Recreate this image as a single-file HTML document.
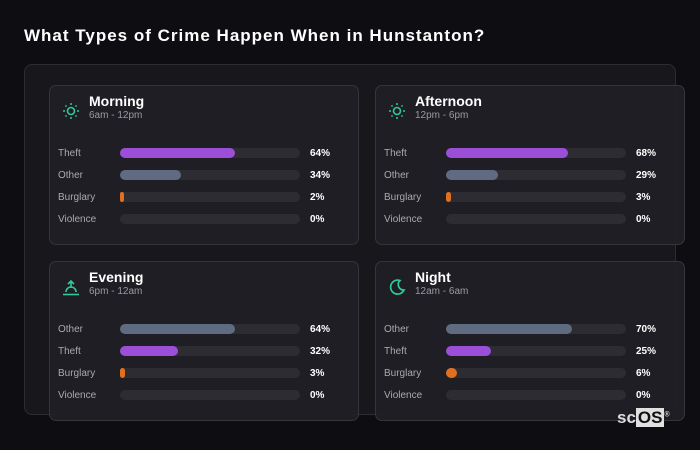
<!DOCTYPE html>
<html><head><meta charset="utf-8"><style>
*{margin:0;padding:0;box-sizing:border-box}
body{width:700px;height:450px;background:#0e0e12;font-family:"Liberation Sans","DejaVu Sans",sans-serif;position:relative;overflow:hidden;color:#fff}
.t{position:absolute;left:24px;top:26px;font-size:17px;font-weight:bold;color:#fff;letter-spacing:1px}
.outer{position:absolute;left:24px;top:64px;width:652px;height:351px;border:1px solid #2c2c33;border-radius:8px;background:#18181c}
.card{position:absolute;width:310px;height:160px;border:1px solid #34343b;border-radius:7px;background:rgba(32,32,37,0.92)}
.ic{position:absolute;left:12px;top:16px;width:18px;height:18px}
.h{position:absolute;left:39px;top:7px;font-size:14px;font-weight:bold;color:#fff}
.s{position:absolute;left:39px;top:24px;font-size:10px;color:#9a9aa2}
.r{position:absolute;left:8px;height:14px;width:290px}
.lb{position:absolute;left:0;top:-2px;font-size:10px;color:#a9a9b0;line-height:14px}
.tr{position:absolute;left:62px;top:-1px;width:180px;height:10px;border-radius:5px;background:#2c2c32}
.f{position:absolute;left:0;top:0;height:10px;border-radius:5px}
.p{position:absolute;left:252px;top:-2px;font-size:10px;font-weight:bold;color:#fff;line-height:14px}
.logo{position:absolute;left:617px;top:408px;font-size:17px;font-weight:bold;color:#ddd}
.logo span{background:#e0e0e0;color:#111;padding:0 2px}
</style></head><body>
<div class="t">What Types of Crime Happen When in Hunstanton?</div>
<div class="outer"></div>

<div class="card" style="left:49px;top:85px">
<svg class="ic" viewBox="0 0 18 18"><circle cx="9" cy="9" r="3.5" fill="none" stroke="#2fc99a" stroke-width="1.6"/><g fill="#2fc99a"><circle cx="9" cy="2" r="1"/><circle cx="9" cy="16" r="1"/><circle cx="2" cy="9" r="1"/><circle cx="16" cy="9" r="1"/><circle cx="4" cy="4" r="0.9"/><circle cx="14" cy="4" r="0.9"/><circle cx="4" cy="14" r="0.9"/><circle cx="14" cy="14" r="0.9"/></g></svg>
<div class="h">Morning</div><div class="s">6am - 12pm</div>
<div class="r" style="top:63px"><div class="lb">Theft</div><div class="tr"><div class="f" style="width:115px;background:#9b4fd8"></div></div><div class="p">64%</div></div>
<div class="r" style="top:85px"><div class="lb">Other</div><div class="tr"><div class="f" style="width:61px;background:#5f6b80"></div></div><div class="p">34%</div></div>
<div class="r" style="top:107px"><div class="lb">Burglary</div><div class="tr"><div class="f" style="width:4px;background:#e07020"></div></div><div class="p">2%</div></div>
<div class="r" style="top:129px"><div class="lb">Violence</div><div class="tr"></div><div class="p">0%</div></div>
</div>

<div class="card" style="left:375px;top:85px">
<svg class="ic" viewBox="0 0 18 18"><circle cx="9" cy="9" r="3.5" fill="none" stroke="#2fc99a" stroke-width="1.6"/><g fill="#2fc99a"><circle cx="9" cy="2" r="1"/><circle cx="9" cy="16" r="1"/><circle cx="2" cy="9" r="1"/><circle cx="16" cy="9" r="1"/><circle cx="4" cy="4" r="0.9"/><circle cx="14" cy="4" r="0.9"/><circle cx="4" cy="14" r="0.9"/><circle cx="14" cy="14" r="0.9"/></g></svg>
<div class="h">Afternoon</div><div class="s">12pm - 6pm</div>
<div class="r" style="top:63px"><div class="lb">Theft</div><div class="tr"><div class="f" style="width:122px;background:#9b4fd8"></div></div><div class="p">68%</div></div>
<div class="r" style="top:85px"><div class="lb">Other</div><div class="tr"><div class="f" style="width:52px;background:#5f6b80"></div></div><div class="p">29%</div></div>
<div class="r" style="top:107px"><div class="lb">Burglary</div><div class="tr"><div class="f" style="width:5px;background:#e07020"></div></div><div class="p">3%</div></div>
<div class="r" style="top:129px"><div class="lb">Violence</div><div class="tr"></div><div class="p">0%</div></div>
</div>

<div class="card" style="left:49px;top:261px">
<svg class="ic" viewBox="0 0 18 18"><g fill="none" stroke="#2fc99a" stroke-width="1.6"><path d="M9 10V3M6 6l3-3 3 3"/><path d="M4 14a5 5 0 0 1 10 0"/><path d="M1 16.5h16"/></g></svg>
<div class="h">Evening</div><div class="s">6pm - 12am</div>
<div class="r" style="top:63px"><div class="lb">Other</div><div class="tr"><div class="f" style="width:115px;background:#5f6b80"></div></div><div class="p">64%</div></div>
<div class="r" style="top:85px"><div class="lb">Theft</div><div class="tr"><div class="f" style="width:58px;background:#9b4fd8"></div></div><div class="p">32%</div></div>
<div class="r" style="top:107px"><div class="lb">Burglary</div><div class="tr"><div class="f" style="width:5px;background:#e07020"></div></div><div class="p">3%</div></div>
<div class="r" style="top:129px"><div class="lb">Violence</div><div class="tr"></div><div class="p">0%</div></div>
</div>

<div class="card" style="left:375px;top:261px">
<svg class="ic" viewBox="0 0 18 18"><path d="M12 2.5A7 7 0 1 0 16 12 5.5 5.5 0 0 1 12 2.5z" fill="none" stroke="#2fc99a" stroke-width="1.7"/></svg>
<div class="h">Night</div><div class="s">12am - 6am</div>
<div class="r" style="top:63px"><div class="lb">Other</div><div class="tr"><div class="f" style="width:126px;background:#5f6b80"></div></div><div class="p">70%</div></div>
<div class="r" style="top:85px"><div class="lb">Theft</div><div class="tr"><div class="f" style="width:45px;background:#9b4fd8"></div></div><div class="p">25%</div></div>
<div class="r" style="top:107px"><div class="lb">Burglary</div><div class="tr"><div class="f" style="width:11px;background:#e07020"></div></div><div class="p">6%</div></div>
<div class="r" style="top:129px"><div class="lb">Violence</div><div class="tr"></div><div class="p">0%</div></div>
</div>

<div class="logo">sc<span>OS</span><sup style="font-size:7px">®</sup></div>
</body></html>
